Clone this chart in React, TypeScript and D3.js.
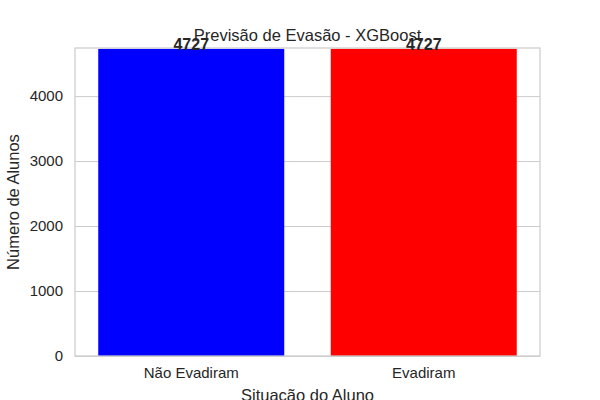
import { useEffect, useRef } from 'react';
import * as d3 from 'd3';

const categories = ["Não Evadiram", "Evadiram"];
const counts = [4727, 4727];
const barColors = ["#0000ff", "#ff0000"];
const yTicks = [0, 1000, 2000, 3000, 4000];

export default function App() {
    const svgRef = useRef<SVGSVGElement>(null);

    useEffect(() => {
        if (!svgRef.current) return;
        const svg = d3.select(svgRef.current);
        svg.selectAll("*").remove();

        const width = 600;
        const height = 400;
        const margin = { top: 48, right: 60, bottom: 44, left: 75 };
        const chartWidth = width - margin.left - margin.right;
        const chartHeight = height - margin.top - margin.bottom;
        const font = "'Liberation Sans', Arial, sans-serif";
        const textColor = "#262626";

        const xScale = d3.scaleBand()
            .domain(categories)
            .range([0, chartWidth])
            .paddingInner(0.2)
            .paddingOuter(0.1);

        const yScale = d3.scaleLinear()
            .domain([0, 4740])
            .range([chartHeight, 0]);

        svg.append("rect")
            .attr("width", width)
            .attr("height", height)
            .attr("fill", "white");

        const g = svg.append("g")
            .attr("transform", `translate(${margin.left},${margin.top})`);

        // grid horizontal
        g.append("g")
            .call(d3.axisLeft(yScale)
                .tickValues(yTicks)
                .tickSize(-chartWidth)
                .tickFormat(() => "")
            )
            .call(sel => sel.select(".domain").remove())
            .selectAll("line")
            .attr("stroke", "#cccccc")
            .attr("stroke-width", 1);

        // barras
        g.selectAll(".bar")
            .data(categories)
            .enter()
            .append("rect")
            .attr("class", "bar")
            .attr("x", d => xScale(d) || 0)
            .attr("y", (d, i) => yScale(counts[i]))
            .attr("width", xScale.bandwidth())
            .attr("height", (d, i) => chartHeight - yScale(counts[i]))
            .attr("fill", (d, i) => barColors[i]);

        // moldura
        g.append("rect")
            .attr("width", chartWidth)
            .attr("height", chartHeight)
            .attr("fill", "none")
            .attr("stroke", "#cccccc")
            .attr("stroke-width", 1.25);

        // eixo Y
        g.append("g")
            .call(d3.axisLeft(yScale).tickValues(yTicks).tickSize(0).tickPadding(12).tickFormat(d3.format("d")))
            .call(sel => sel.select(".domain").remove())
            .selectAll("text")
            .style("font-family", font)
            .style("font-size", "15px")
            .style("fill", textColor);

        // eixo X
        g.append("g")
            .attr("transform", `translate(0,${chartHeight})`)
            .call(d3.axisBottom(xScale).tickSize(0).tickPadding(11))
            .call(sel => sel.select(".domain").remove())
            .selectAll("text")
            .style("font-family", font)
            .style("font-size", "15px")
            .style("fill", textColor);

        // valores
        g.selectAll(".bar-label")
            .data(categories)
            .enter()
            .append("text")
            .attr("x", d => (xScale(d) || 0) + xScale.bandwidth() / 2)
            .attr("y", (d, i) => yScale(counts[i]) + 1)
            .attr("text-anchor", "middle")
            .attr("font-family", font)
            .attr("font-size", "16px")
            .attr("font-weight", "bold")
            .attr("fill", textColor)
            .text((d, i) => counts[i]);

        // título
        svg.append("text")
            .attr("x", margin.left + chartWidth / 2)
            .attr("y", 41)
            .attr("text-anchor", "middle")
            .attr("font-family", font)
            .attr("font-size", "16.5px")
            .attr("fill", textColor)
            .text("Previsão de Evasão - XGBoost");

        svg.append("text")
            .attr("x", margin.left + chartWidth / 2)
            .attr("y", 401)
            .attr("text-anchor", "middle")
            .attr("font-family", font)
            .attr("font-size", "16.5px")
            .attr("fill", textColor)
            .text("Situação do Aluno");

        svg.append("text")
            .attr("transform", `translate(19,${margin.top + chartHeight / 2}) rotate(-90)`)
            .attr("text-anchor", "middle")
            .attr("font-family", font)
            .attr("font-size", "16.5px")
            .attr("fill", textColor)
            .text("Número de Alunos");
    }, []);

    return (
        <svg
            ref={svgRef}
            width={600}
            height={400}
            style={{ position: "absolute", left: 0, top: 0 }}
        />
    );
}
